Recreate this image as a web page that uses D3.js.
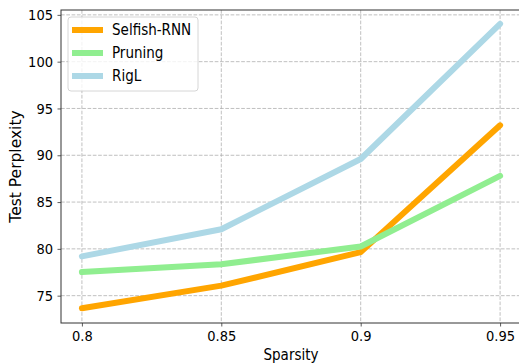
<!DOCTYPE html>
<html>
<head>
<meta charset="utf-8">
<script src="https://cdn.jsdelivr.net/npm/d3@7"></script>
<style>
  body { margin: 0; background: #fff; }
  text { font-family: "DejaVu Sans Condensed", "DejaVu Sans", sans-serif; }
</style>
</head>
<body>
<div id="chart"></div>
<script>
// data
var sparsity = [0.8, 0.85, 0.9, 0.95];
var selfishRNN = [73.65, 76.07, 79.65, 93.2];
var pruning = [77.53, 78.35, 80.25, 87.8];
var rigl = [79.2, 82.1, 89.6, 104.04];
var seriesNames = ["Selfish-RNN", "Pruning", "RigL"];
var seriesColors = ["#ffa500", "#90ee90", "#add8e6"];
var xTicks = [0.8, 0.85, 0.9, 0.95];
var xTickLabels = ["0.8", "0.85", "0.9", "0.95"];
var yTicks = [75, 80, 85, 90, 95, 100, 105];

var W = 519, H = 364;
var margin = {top: 10, right: -2, bottom: 41, left: 61},
    width = W - margin.left - margin.right,
    height = H - margin.top - margin.bottom;

var svg = d3.select("#chart")
  .append("svg")
    .attr("width", W)
    .attr("height", H);

var g = svg.append("g")
    .attr("transform", "translate(" + margin.left + "," + margin.top + ")");

// matplotlib style 5% margins
var x = d3.scaleLinear().domain([0.7925, 0.9575]).range([0, width]);
var y = d3.scaleLinear().domain([72.08, 105.52]).range([height, 0]);

// grid
g.append("g").selectAll("line")
  .data(xTicks).enter().append("line")
    .attr("x1", function(d){ return x(d); }).attr("x2", function(d){ return x(d); })
    .attr("y1", 0).attr("y2", height)
    .attr("stroke", "#b0b0b0").attr("stroke-dasharray", "3.7,1.6").attr("stroke-width", 0.8);
g.append("g").selectAll("line")
  .data(yTicks).enter().append("line")
    .attr("y1", function(d){ return y(d); }).attr("y2", function(d){ return y(d); })
    .attr("x1", 0).attr("x2", width)
    .attr("stroke", "#b0b0b0").attr("stroke-dasharray", "3.7,1.6").attr("stroke-width", 0.8);

// lines
var allSeries = [selfishRNN, pruning, rigl];
var line = d3.line()
  .x(function(d, i){ return x(sparsity[i]); })
  .y(function(d){ return y(d); });

g.selectAll("path.series")
  .data(allSeries).enter().append("path")
    .attr("class", "series")
    .attr("d", function(d){ return line(d); })
    .attr("fill", "none")
    .attr("stroke", function(d, i){ return seriesColors[i]; })
    .attr("stroke-width", 6)
    .attr("stroke-linecap", "round")
    .attr("stroke-linejoin", "round");

// axes
var xAxis = g.append("g")
  .attr("transform", "translate(0," + height + ")")
  .call(d3.axisBottom(x).tickValues(xTicks).tickFormat(function(d, i){ return xTickLabels[i]; })
        .tickSizeOuter(0).tickSize(3.5).tickPadding(4.5));
var yAxis = g.append("g")
  .call(d3.axisLeft(y).tickValues(yTicks).tickSizeOuter(0).tickSize(3.5).tickPadding(4.5));

[xAxis, yAxis].forEach(function(a){
  a.selectAll("text").style("font-size", "14.5px")
    .style("font-family", "'DejaVu Sans Condensed', 'DejaVu Sans'").attr("fill", "#000");
  a.selectAll(".tick line").attr("stroke", "#333").attr("stroke-width", 0.8);
  a.select(".domain").remove();
});

// spines
g.append("rect").attr("x", 0).attr("y", 0).attr("width", width).attr("height", height)
  .attr("fill", "none").attr("stroke", "#333").attr("stroke-width", 1);

// axis labels
svg.append("text")
  .attr("x", margin.left + x(0.875)).attr("y", 360)
  .attr("text-anchor", "middle")
  .style("font-size", "15px")
  .text("Sparsity");
svg.append("text")
  .attr("transform", "translate(21," + (margin.top + height / 2) + ") rotate(-90)")
  .attr("text-anchor", "middle")
  .style("font-family", "'DejaVu Sans'")
  .style("font-size", "15.5px")
  .text("Test Perplexity");

// legend
var legend = svg.append("g").attr("transform", "translate(68,17)");
legend.append("rect")
  .attr("width", 130).attr("height", 74).attr("rx", 3)
  .attr("fill", "#fff").attr("fill-opacity", 0.8)
  .attr("stroke", "#cccccc").attr("stroke-width", 0.8);
seriesNames.forEach(function(name, i){
  var ly = 13 + i * 23;
  legend.append("line")
    .attr("x1", 4).attr("x2", 35).attr("y1", ly).attr("y2", ly)
    .attr("stroke", seriesColors[i]).attr("stroke-width", 6);
  legend.append("text")
    .attr("x", 44).attr("y", ly).attr("dy", "0.35em")
    .style("font-size", "15px")
    .text(name);
});
</script>
</body>
</html>
